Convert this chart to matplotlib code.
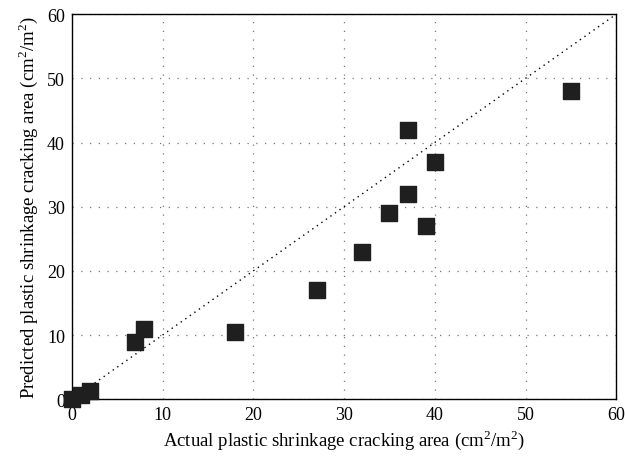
import matplotlib
matplotlib.use("Agg")
import matplotlib.pyplot as plt

plt.rcParams["font.family"] = ["Liberation Serif", "DejaVu Serif"]
plt.rcParams["mathtext.fontset"] = "custom"
plt.rcParams["mathtext.rm"] = "Liberation Serif"

# actual vs predicted cracking area (cm2/m2)
actual = [0, 1, 2, 7, 8, 18, 27, 32, 35, 37, 37, 39, 40, 55]
predicted = [0, 0.7, 1.3, 8.9, 11, 10.5, 17, 23, 29, 42, 32, 27, 37, 48]
ticks = [0, 10, 20, 30, 40, 50, 60]

fig = plt.figure(figsize=(6.25, 4.6), dpi=100)
ax = fig.add_axes([0.115, 0.13, 0.871, 0.837])

ax.plot([0, 60], [0, 60], color="black", linestyle=(0, (1, 3)), linewidth=1.0, zorder=2)
ax.scatter(actual, predicted, marker="s", s=125, color="#1f1f1f", zorder=3, clip_on=False)

ax.set_xlim(0, 60)
ax.set_ylim(0, 60)
ax.set_xticks(ticks)
ax.set_yticks(ticks)
ax.grid(True, color="#777777", linestyle=(0, (1, 6)), linewidth=0.9)
ax.tick_params(length=0, labelsize=13, pad=5)
for s in ax.spines.values():
    s.set_linewidth(1.0)

ax.set_xlabel(r"Actual plastic shrinkage cracking area (cm$^2$/m$^2$)", fontsize=13.5, labelpad=3)
ax.set_ylabel(r"Predicted plastic shrinkage cracking area (cm$^2$/m$^2$)", fontsize=13.5, labelpad=5)

fig.savefig("out.png", dpi=100)
